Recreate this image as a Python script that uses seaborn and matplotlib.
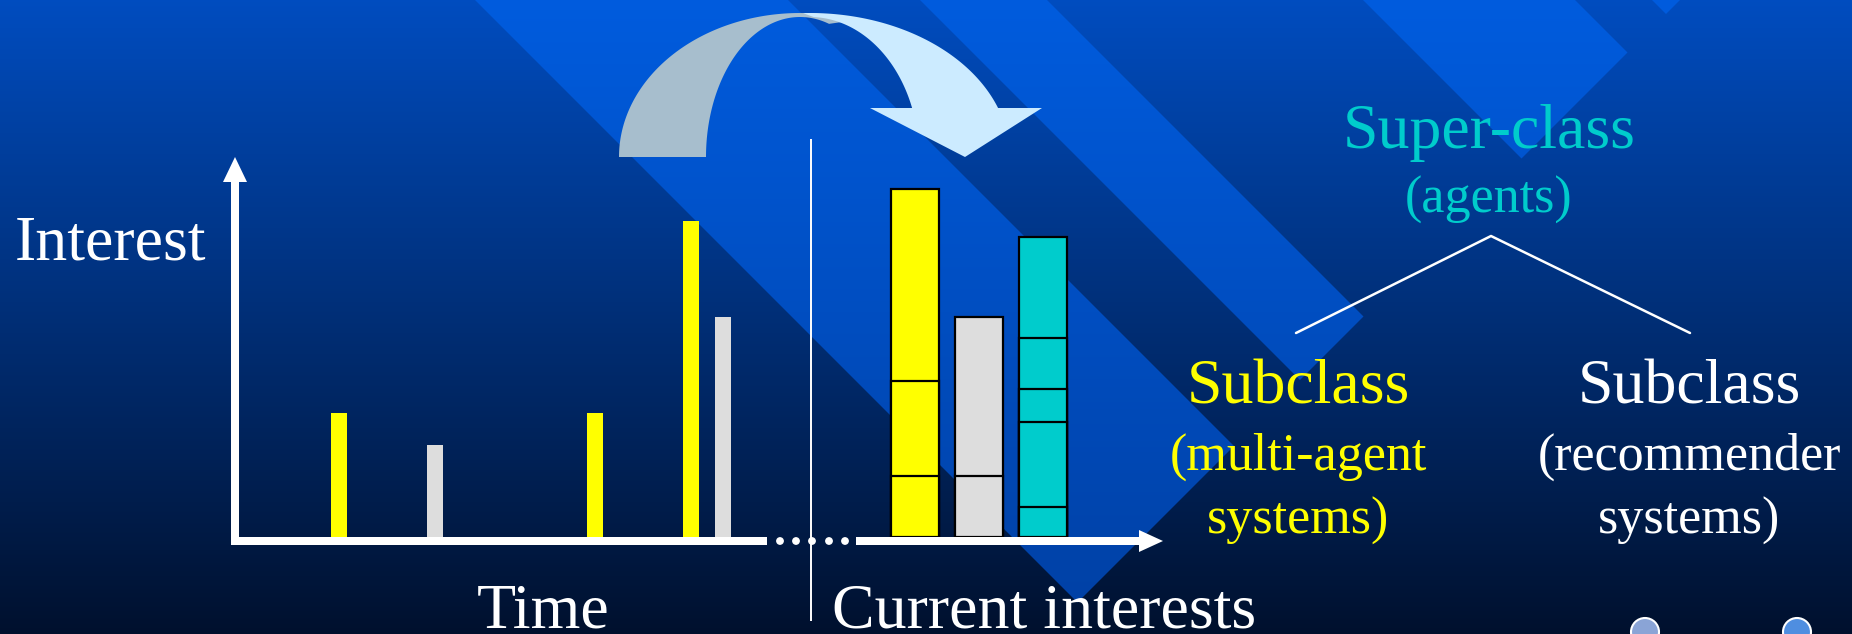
import numpy as np
import pandas as pd
import matplotlib
matplotlib.use("Agg")
import matplotlib.pyplot as plt
from matplotlib.patches import Polygon, Rectangle, Circle
import seaborn as sns

# ---------------- data ----------------
time_step = [1, 4, 9, 12, 13]
time_interest = [124, 92, 124, 316, 220]
time_topic = ["multi-agent systems", "recommender systems", "multi-agent systems",
              "multi-agent systems", "recommender systems"]

current_topics = ["multi-agent systems", "recommender systems", "agents"]
current_step = [19, 21, 23]
mas_segments = [61, 95, 192]
rec_segments = [61, 159]
agent_segments = [30, 85, 33, 51, 101]

label_interest = "Interest"
label_time = "Time"
label_current = "Current interests"
super_title = "Super-class"
super_sub = "(agents)"
sub_titles = ["Subclass", "Subclass"]
sub_lines = [["(multi-agent", "systems)"], ["(recommender", "systems)"]]

# ---------------- styles ----------------
YELLOW = "#FFFF00"
GRAY = "#DDDDDD"
TEAL = "#00CCCC"
topic_colors = {"multi-agent systems": YELLOW, "recommender systems": GRAY, "agents": TEAL}

sns.set_theme(style="white")
plt.rcParams["font.family"] = ["Liberation Serif", "DejaVu Serif"]

W, H = 1852, 634
fig = plt.figure(figsize=(W / 100, H / 100), dpi=100)

# ---------------- background ----------------
ax_bg = fig.add_axes([0, 0, 1, 1])
ys = np.linspace(0, 1, 256)[:, None]
top = np.array([0.0, 0.30, 0.75])
bot = np.array([0.0, 0.065, 0.18])
grad = (top * (1 - ys) + bot * ys)[:, None, :]
ax_bg.imshow(grad, extent=(0, W, H, 0), aspect="auto", interpolation="bilinear", zorder=0)

btop = np.array([0.0, 0.36, 0.87])
bbot = np.array([0.0, 0.25, 0.64])
bgrad = (btop * (1 - ys) + bbot * ys)[:, None, :]
cut = 1680
bands = []
for xl, xr in [(475, 788), (920, 1047), (1363, 1575)]:
    bands.append([(xl, 0), (xr, 0), ((cut + xr) / 2, (cut - xr) / 2), ((cut + xl) / 2, (cut - xl) / 2)])
bands.append([(1652, 0), (cut, 0), ((cut + 1652) / 2, (cut - 1652) / 2)])
for verts in bands:
    poly = Polygon(verts, closed=True, transform=ax_bg.transData, fc="none", ec="none")
    im = ax_bg.imshow(bgrad, extent=(0, W, H, 0), aspect="auto", interpolation="bilinear", zorder=1)
    im.set_clip_path(poly)

# curved arrow (back part) - extends under the front part so they join
th = np.radians(np.linspace(180, 72, 100))
cx, cy = 800, 157
outer = np.c_[cx + 181 * np.cos(th), cy - 144 * np.sin(th)]
inner = np.c_[cx + 94 * np.cos(th[::-1]), cy - 140 * np.sin(th[::-1])]
ax_bg.add_patch(Polygon(np.vstack([outer, inner]), closed=True, fc="#A7BECD", ec="none", zorder=2))
# front part with head
cx2 = 810
t_out = np.radians(np.linspace(92, np.degrees(np.arcsin(49 / 144)), 90))
t_in = np.radians(np.linspace(np.degrees(np.arcsin(49 / 140)), 88, 90))
o2 = np.c_[cx2 + 200 * np.cos(t_out), cy - 144 * np.sin(t_out)]
i2 = np.c_[cx2 + 109 * np.cos(t_in), cy - 140 * np.sin(t_in)]
head = np.array([[1042, 108], [965, 157], [870, 108]])
ax_bg.add_patch(Polygon(np.vstack([o2, head, i2]), closed=True, fc="#CCEBFF", ec="none", zorder=3))
ax_bg.set_xlim(0, W)
ax_bg.set_ylim(H, 0)
ax_bg.axis("off")

# ---------------- bars ----------------
ax = fig.add_axes([0, 0, 1, 1])
ax.patch.set_alpha(0)
x0_px, step_px, base_px = 307, 32, 537

df_time = pd.DataFrame({"time": time_step, "interest": time_interest, "topic": time_topic})
sns.barplot(data=df_time, x="time", y="interest", hue="topic", palette=topic_colors,
            native_scale=True, width=0.5, dodge=False, saturation=1, errorbar=None,
            linewidth=0, legend=False, ax=ax)

for pos, segs, topic in zip(current_step, [mas_segments, rec_segments, agent_segments], current_topics):
    for total in np.cumsum(segs)[::-1]:
        sns.barplot(x=[pos], y=[total], native_scale=True, width=1.5, color=topic_colors[topic],
                    saturation=1, edgecolor="black", linewidth=1.6, errorbar=None, ax=ax)

ax.set_xlim(-x0_px / step_px, (W - x0_px) / step_px)
ax.set_ylim(-(H - base_px), base_px)
ax.axis("off")

# ---------------- foreground ----------------
fg = fig.add_axes([0, 0, 1, 1])
fg.patch.set_alpha(0)
fg.set_xlim(0, W)
fg.set_ylim(H, 0)
fg.axis("off")

white = "white"
fg.add_patch(Rectangle((231, 181), 8, 364, fc=white, ec="none"))
fg.add_patch(Polygon([(223, 182), (247, 182), (235, 157)], fc=white, ec="none"))
fg.add_patch(Rectangle((231, 537), 536, 8, fc=white, ec="none"))
for dx in [780, 796, 812, 829, 845]:
    fg.add_patch(Circle((dx, 541), 3.9, fc=white, ec="none"))
fg.add_patch(Rectangle((856, 537), 284, 8, fc=white, ec="none"))
fg.add_patch(Polygon([(1139, 530), (1139, 552), (1163, 541)], fc=white, ec="none"))
fg.plot([811, 811], [139, 621], color=white, lw=1.4, solid_capstyle="butt")

fg.plot([1296, 1491, 1690], [333, 236, 333], color=white, lw=1.8)

BIG, SMALL = 46, 37.5
fg.text(15, 260, label_interest, color=white, fontsize=BIG, ha="left", va="baseline")
fg.text(543, 627, label_time, color=white, fontsize=BIG, ha="center", va="baseline")
fg.text(1044, 627, label_current, color=white, fontsize=BIG, ha="center", va="baseline")
fg.text(1489, 148, super_title, color=TEAL, fontsize=BIG, ha="center", va="baseline")
fg.text(1489, 213, super_sub, color=TEAL, fontsize=SMALL, ha="center", va="baseline")
for xc, col, title, lines in zip([1298, 1689], [YELLOW, white], sub_titles, sub_lines):
    fg.text(xc, 404, title, color=col, fontsize=BIG, ha="center", va="baseline")
    fg.text(xc, 470, lines[0], color=col, fontsize=SMALL, ha="center", va="baseline")
    fg.text(xc, 534, lines[1], color=col, fontsize=SMALL, ha="center", va="baseline")

fg.add_patch(Circle((1645, 632), 14, fc="#8AA4D6", ec=white, lw=1.5))
fg.add_patch(Circle((1797, 632), 14, fc="#4F8EE0", ec=white, lw=1.5))

fig.savefig("out.png", dpi=100)
